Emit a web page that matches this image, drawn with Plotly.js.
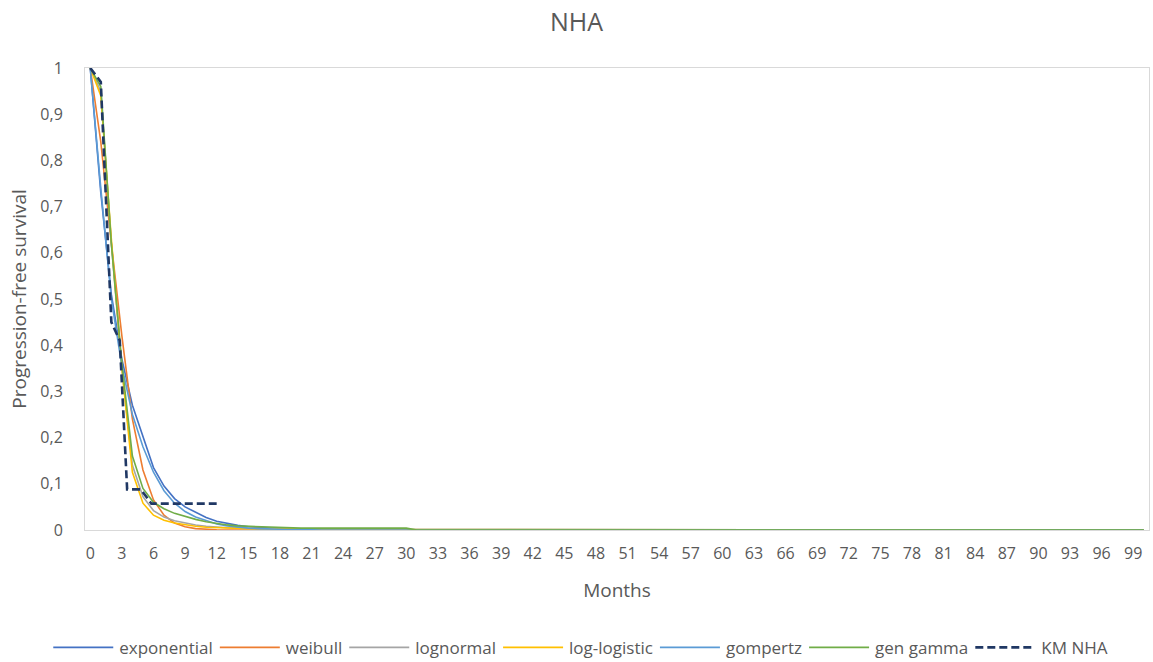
<!DOCTYPE html>
<html>
<head>
<meta charset="utf-8">
<script src="https://cdn.plot.ly/plotly-3.0.1.min.js"></script>
<style>
  html, body { margin: 0; padding: 0; background: #ffffff; }
  #chart { width: 1153px; height: 662px; }
</style>
</head>
<body>
<div id="chart"></div>
<script>
const months = [
  0,1,2,3,4,5,6,7,8,9,10,11,12,13,14,15,16,17,18,19,20,
  21,22,23,24,25,26,27,28,29,30,31,32,33,34,35,36,37,38,39,40,
  41,42,43,44,45,46,47,48,49,50,51,52,53,54,55,56,57,58,59,60,
  61,62,63,64,65,66,67,68,69,70,71,72,73,74,75,76,77,78,79,80,
  81,82,83,84,85,86,87,88,89,90,91,92,93,94,95,96,97,98,99,100
];

const exponential = [
  1,0.73,0.51,0.37,0.27,0.2,0.135,0.095,0.068,0.05,
  0.038,0.027,0.019,0.014,0.01,0.007,0.005,0.004,0.003,0.002,
  0.002,0.002,0.001,0.001,0.001,0.001,0.001,0.001,0.001,0.001,
  0.001,
  0,0,0,0,0,0,0,0,0,0,
  0,0,0,0,0,0,0,0,0,0,
  0,0,0,0,0,0,0,0,0,0,
  0,0,0,0,0,0,0,0,0,0,
  0,0,0,0,0,0,0,0,0,0,
  0,0,0,0,0,0,0,0,0,0,
  0,0,0,0,0,0,0,0,0,0
];

const weibull = [
  1,0.84,0.62,0.42,0.24,0.13,0.065,0.032,0.015,0.007,
  0.003,0.001,0.0005,0,0,0,0,0,0,0,
  0,0,0,0,0,0,0,0,0,0,
  0,
  0,0,0,0,0,0,0,0,0,0,
  0,0,0,0,0,0,0,0,0,0,
  0,0,0,0,0,0,0,0,0,0,
  0,0,0,0,0,0,0,0,0,0,
  0,0,0,0,0,0,0,0,0,0,
  0,0,0,0,0,0,0,0,0,0,
  0,0,0,0,0,0,0,0,0,0
];

const lognormal = [
  1,0.95,0.62,0.35,0.14,0.072,0.042,0.028,0.02,0.015,
  0.011,0.008,0.006,0.005,0.004,0.003,0.003,0.002,0.002,0.002,
  0.001,0.001,0.001,0.001,0.001,0.001,0.001,0.001,0.001,0.001,
  0.001,
  0,0,0,0,0,0,0,0,0,0,
  0,0,0,0,0,0,0,0,0,0,
  0,0,0,0,0,0,0,0,0,0,
  0,0,0,0,0,0,0,0,0,0,
  0,0,0,0,0,0,0,0,0,0,
  0,0,0,0,0,0,0,0,0,0,
  0,0,0,0,0,0,0,0,0,0
];

const logLogistic = [
  1,0.94,0.63,0.35,0.125,0.058,0.032,0.021,0.015,0.011,
  0.008,0.006,0.005,0.004,0.004,0.003,0.003,0.003,0.002,0.002,
  0.002,0.002,0.001,0.001,0.001,0.001,0.001,0.001,0.001,0.001,
  0.001,
  0,0,0,0,0,0,0,0,0,0,
  0,0,0,0,0,0,0,0,0,0,
  0,0,0,0,0,0,0,0,0,0,
  0,0,0,0,0,0,0,0,0,0,
  0,0,0,0,0,0,0,0,0,0,
  0,0,0,0,0,0,0,0,0,0,
  0,0,0,0,0,0,0,0,0,0
];

const gompertz = [
  1,0.74,0.5,0.355,0.25,0.18,0.125,0.085,0.058,0.04,
  0.028,0.02,0.013,0.009,0.006,0.004,0.003,0.002,0.001,0.001,
  0.001,0,0,0,0,0,0,0,0,0,
  0,
  0,0,0,0,0,0,0,0,0,0,
  0,0,0,0,0,0,0,0,0,0,
  0,0,0,0,0,0,0,0,0,0,
  0,0,0,0,0,0,0,0,0,0,
  0,0,0,0,0,0,0,0,0,0,
  0,0,0,0,0,0,0,0,0,0,
  0,0,0,0,0,0,0,0,0,0
];

const genGamma = [
  1,0.96,0.62,0.36,0.16,0.09,0.06,0.046,0.036,0.029,
  0.023,0.018,0.014,0.011,0.009,0.008,0.007,0.006,0.005,0.005,
  0.004,0.004,0.004,0.004,0.004,0.004,0.004,0.004,0.004,0.004,
  0.004,
  0,0,0,0,0,0,0,0,0,0,
  0,0,0,0,0,0,0,0,0,0,
  0,0,0,0,0,0,0,0,0,0,
  0,0,0,0,0,0,0,0,0,0,
  0,0,0,0,0,0,0,0,0,0,
  0,0,0,0,0,0,0,0,0,0,
  0,0,0,0,0,0,0,0,0,0
];

const kmMonths = [0, 1, 2, 2.8, 3.5, 4.8, 5.8, 12];
const kmValues = [1, 0.97, 0.45, 0.41, 0.088, 0.088, 0.057, 0.057];

const xTickVals = [0,3,6,9,12,15,18,21,24,27,30,33,36,39,42,45,48,51,54,57,60,63,66,69,72,75,78,81,84,87,90,93,96,99];
const yTickVals = [0,0.1,0.2,0.3,0.4,0.5,0.6,0.7,0.8,0.9,1];

const seriesNames = ['exponential','weibull','lognormal','log-logistic','gompertz','gen gamma'];
const seriesData = [exponential, weibull, lognormal, logLogistic, gompertz, genGamma];
const seriesColors = ['#4472C4','#ED7D31','#A5A5A5','#FFC000','#5B9BD5','#70AD47'];

const traces = seriesNames.map((name, i) => ({
  type: 'scatter',
  mode: 'lines',
  name: name,
  x: months,
  y: seriesData[i],
  line: { color: seriesColors[i], width: 1.6 }
}));

traces.push({
  type: 'scatter',
  mode: 'lines',
  name: 'KM NHA',
  x: kmMonths,
  y: kmValues,
  line: { color: '#203864', width: 2.6, dash: '8px,4px' }
});

const font = '"Open Sans", "Noto Sans", "Liberation Sans", sans-serif';
const gray = '#595959';

const layout = {
  width: 1153,
  height: 662,
  autosize: false,
  paper_bgcolor: '#ffffff',
  plot_bgcolor: '#ffffff',
  separators: ',.',
  font: { family: font, size: 16, color: gray },
  title: {
    text: 'NHA',
    font: { family: font, size: 25, color: gray },
    x: 0.5, xref: 'container', xanchor: 'center',
    y: 0.967, yref: 'container', yanchor: 'middle'
  },
  margin: { l: 85, r: 4, t: 68, b: 132, autoexpand: false },
  showlegend: true,
  legend: {
    orientation: 'h',
    xref: 'container',
    x: 0.505, xanchor: 'center',
    y: -0.255, yanchor: 'middle',
    font: { family: font, size: 17, color: gray },
    traceorder: 'normal',
    itemwidth: 58
  },
  xaxis: {
    range: [-0.5, 100.5],
    tickmode: 'array',
    tickvals: xTickVals,
    ticktext: xTickVals.map(String),
    tickangle: 0,
    ticks: '',
    ticklabelstandoff: 9,
    showgrid: false,
    zeroline: false,
    showline: true,
    linecolor: '#D9D9D9',
    linewidth: 1,
    mirror: true,
    tickfont: { family: font, size: 16, color: gray },
    title: { text: 'Months', font: { family: font, size: 19, color: gray }, standoff: 20 }
  },
  yaxis: {
    range: [0, 1],
    tickmode: 'array',
    tickvals: yTickVals,
    tickformat: '.1~f',
    ticks: '',
    showgrid: false,
    zeroline: false,
    showline: true,
    linecolor: '#D9D9D9',
    linewidth: 1,
    mirror: true,
    ticklabelstandoff: 18,
    tickfont: { family: font, size: 16, color: gray },
    title: { text: 'Progression-free survival', font: { family: font, size: 19, color: gray }, standoff: 8 }
  }
};

Plotly.newPlot('chart', traces, layout, { displayModeBar: false, responsive: false }).then(function (gd) {
  // lengthen the legend line samples to match the reference's longer swatches
  gd.querySelectorAll('.legend path.js-line').forEach(function (p) {
    p.setAttribute('d', 'M2,0h60');
  });
});
</script>
</body>
</html>
